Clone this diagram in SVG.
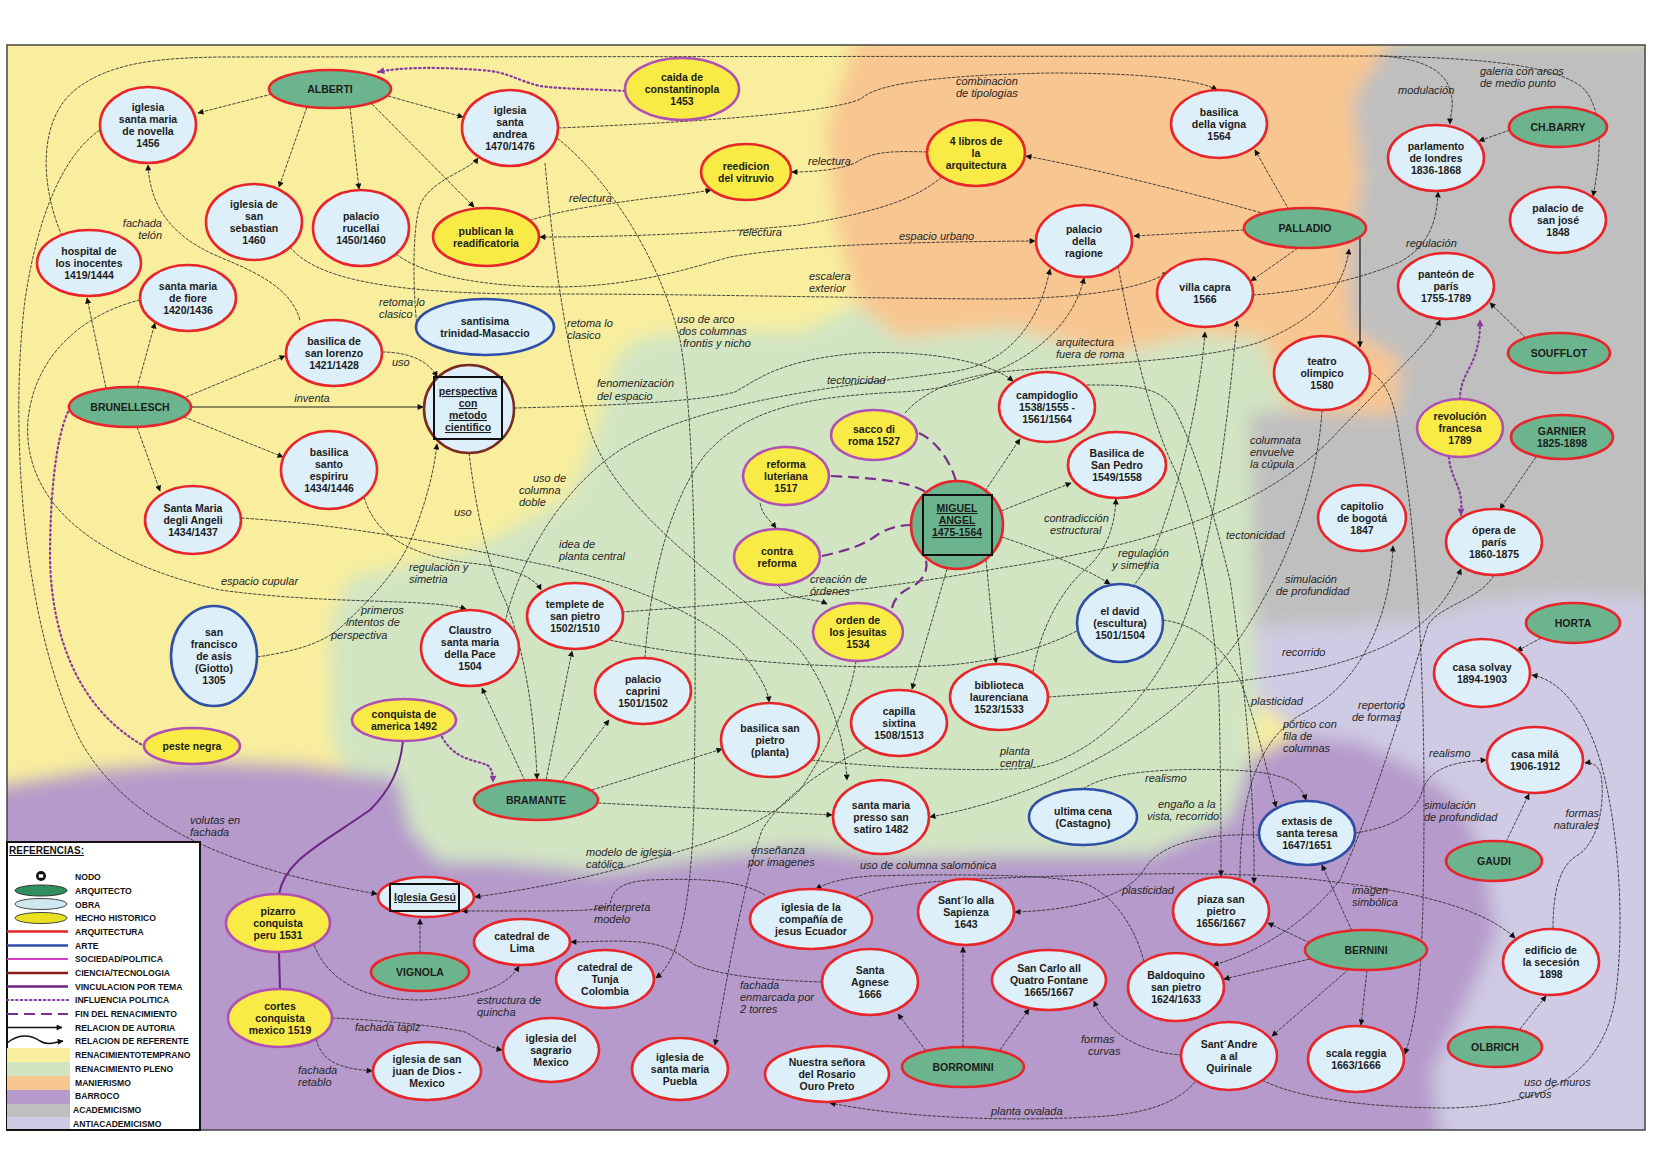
<svg xmlns="http://www.w3.org/2000/svg" width="1654" height="1169" viewBox="0 0 1654 1169">
<defs>
<style>
.t{font-family:"Liberation Sans",Arial,sans-serif;font-weight:bold;font-size:10.5px;fill:#1c1c1c;text-anchor:middle}
.u{text-decoration:underline}
.l{font-family:"Liberation Sans",Arial,sans-serif;font-style:italic;font-size:11px;fill:#262626}
.g{font-family:"Liberation Sans",Arial,sans-serif;font-weight:bold;font-size:8.6px;fill:#111}
.ob{fill:#DDEFF8;stroke:#E8252A;stroke-width:2.6}
.ar{fill:#DDEFF8;stroke:#2F4FA6;stroke-width:2.6}
.aq{fill:#6BB48E;stroke:#E8252A;stroke-width:2.6}
.hs{fill:#F8EB46;stroke:#B050B5;stroke-width:2.6}
.hr{fill:#F8EB46;stroke:#E8252A;stroke-width:2.6}
.e{fill:none;stroke:#2a2a2a;stroke-width:0.85;stroke-dasharray:3.5 1.2}
.s{fill:none;stroke:#222;stroke-width:1}
.pd{fill:none;stroke:#8B3A9F;stroke-width:2.2;stroke-dasharray:1.4 3.2;stroke-linecap:round}
.pf{fill:none;stroke:#7A2E90;stroke-width:2.2;stroke-dasharray:11 6}
.pv{fill:none;stroke:#6E2586;stroke-width:2}
</style>
<marker id="a" viewBox="0 0 10 10" refX="9" refY="5" markerWidth="7" markerHeight="6" markerUnits="userSpaceOnUse" orient="auto"><path d="M0,0 L10,5 L0,10 Z" fill="#111"/></marker>
<marker id="ap" viewBox="0 0 10 10" refX="9" refY="5" markerWidth="8" markerHeight="7" markerUnits="userSpaceOnUse" orient="auto"><path d="M0,0 L10,5 L0,10 Z" fill="#8B3A9F"/></marker>
<filter id="soft" x="-10%" y="-10%" width="120%" height="120%"><feGaussianBlur stdDeviation="9"/></filter>
<clipPath id="fr"><rect x="7" y="45" width="1638" height="1085"/></clipPath>
</defs>
<rect x="0" y="0" width="1654" height="1169" fill="#ffffff"/>
<g id="background" clip-path="url(#fr)">
<rect x="7" y="45" width="1638" height="1085" fill="#F8EE9E"/>
<g filter="url(#soft)">
<path fill="#F8C690" d="M855,40 L1392,40 L1352,100 L1362,180 L1348,260 L1352,330 L1400,360 L1396,415 L1290,410 L1262,338 L1200,334 L1110,354 L1010,327 L900,338 L858,305 L838,230 L826,130 L846,70 Z"/>
<path fill="#BFBFBF" d="M1392,40 L1660,40 L1660,598 L1560,594 L1480,602 L1420,620 L1255,628 L1250,412 L1290,410 L1396,415 L1400,360 L1352,330 L1348,260 L1362,180 L1352,100 Z"/>
<path fill="#D2E5C3" d="M330,625 L350,578 L475,549 L570,496 L592,443 L615,360 L640,338 L700,330 L800,332 L858,305 L900,338 L1010,327 L1110,354 L1200,334 L1262,338 L1290,410 L1250,412 L1255,628 L1258,700 L1250,760 L1230,820 L1150,855 L1020,855 L900,858 L800,847 L700,858 L600,872 L500,862 L440,862 L410,830 L398,778 L345,770 L332,740 Z"/>
<path fill="#B59ACB" d="M-10,788 L100,770 L200,762 L300,766 L345,772 L398,778 L410,830 L440,862 L500,862 L600,872 L700,858 L800,847 L900,858 L1020,855 L1150,855 L1230,820 L1250,760 L1300,735 L1360,742 L1420,772 L1460,802 L1482,852 L1497,932 L1467,1002 L1432,1072 L1442,1150 L-10,1150 Z"/>
<path fill="#CFCBE4" d="M1255,628 L1420,620 L1480,602 L1560,594 L1660,598 L1660,1150 L1442,1150 L1432,1072 L1467,1002 L1497,932 L1482,852 L1460,802 L1420,772 L1360,742 L1300,735 L1258,700 Z"/>
</g>
</g>
<rect x="7" y="45" width="1638" height="1085" fill="none" stroke="#444" stroke-width="1.5"/>

<g id="connectors">
<path class="e" marker-end="url(#a)" d="M272,94 L198,113"/>
<path class="e" marker-end="url(#a)" d="M307,107 L279,187"/>
<path class="e" marker-end="url(#a)" d="M350,107 L359,189"/>
<path class="e" marker-end="url(#a)" d="M388,96 L463,117"/>
<path class="e" marker-end="url(#a)" d="M372,104 L474,207"/>
<path class="e" marker-end="url(#a)" d="M106,388 L87,298"/>
<path class="e" marker-end="url(#a)" d="M137,388 L155,323"/>
<path class="e" marker-end="url(#a)" d="M186,397 L285,356"/>
<path class="s" marker-end="url(#a)" d="M191,407 L423,407"/>
<path class="e" marker-end="url(#a)" d="M184,417 L283,457"/>
<path class="e" marker-end="url(#a)" d="M137,427 L160,491"/>
<path class="e" marker-end="url(#a)" d="M525,781 L482,688"/>
<path class="e" marker-end="url(#a)" d="M546,780 L572,651"/>
<path class="e" marker-end="url(#a)" d="M562,782 L609,720"/>
<path class="e" marker-end="url(#a)" d="M592,790 L722,749"/>
<path class="e" marker-end="url(#a)" d="M598,803 L832,815"/>
<path class="e" marker-end="url(#a)" d="M1289,210 L1255,150"/>
<path class="e" marker-end="url(#a)" d="M1265,214 C1200,195 1100,170 1026,156"/>
<path class="e" marker-end="url(#a)" d="M1244,230 L1134,236"/>
<path class="e" marker-end="url(#a)" d="M1298,248 L1251,281"/>
<path class="s" style="stroke-width:1.3" marker-end="url(#a)" d="M1360,238 L1360,347"/>
<path class="e" marker-end="url(#a)" d="M985,491 L1020,439"/>
<path class="e" marker-end="url(#a)" d="M1001,511 L1071,483"/>
<path class="e" marker-end="url(#a)" d="M947,569 L912,689"/>
<path class="e" marker-end="url(#a)" d="M986,560 L996,663"/>
<path class="e" marker-end="url(#a)" d="M1002,537 C1040,550 1080,565 1110,584"/>
<path class="e" marker-end="url(#a)" d="M1510,130 L1479,141"/>
<path class="e" marker-end="url(#a)" d="M1526,338 L1490,303"/>
<path class="e" marker-end="url(#a)" d="M1536,457 L1500,509"/>
<path class="e" marker-end="url(#a)" d="M1541,638 L1517,651"/>
<path class="e" marker-end="url(#a)" d="M1506,842 L1529,794"/>
<path class="e" marker-end="url(#a)" d="M1520,1029 L1546,996"/>
<path class="e" marker-end="url(#a)" d="M420,953 L420,919"/>
<path class="e" marker-end="url(#a)" d="M926,1051 L898,1014"/>
<path class="e" marker-end="url(#a)" d="M963,1047 L963,947"/>
<path class="e" marker-end="url(#a)" d="M1000,1050 L1029,1009"/>
<path class="e" marker-end="url(#a)" d="M1352,931 L1322,865"/>
<path class="e" marker-end="url(#a)" d="M1310,943 L1268,923"/>
<path class="e" marker-end="url(#a)" d="M1310,959 L1224,979"/>
<path class="e" marker-end="url(#a)" d="M1349,969 L1272,1036"/>
<path class="e" marker-end="url(#a)" d="M1367,970 L1361,1025"/>
<path class="e" marker-end="url(#a)" d="M760,503 C762,515 770,520 776,528"/>
<path class="e" marker-end="url(#a)" d="M778,585 C785,600 815,598 827,604"/>
<path class="e" marker-end="url(#a)" d="M300,320 C290,285 250,270 215,255 C170,235 150,205 148,165"/>
<path class="e" marker-end="url(#a)" d="M382,352 C410,352 430,362 437,377"/>
<path class="e" marker-end="url(#a)" d="M417,327 C413,290 412,230 420,205 C430,180 470,170 478,158"/>
<path class="e" marker-end="url(#a)" d="M525,222 C560,210 600,205 650,198 C680,195 700,192 711,190"/>
<path class="e" marker-end="url(#a)" d="M927,152 C880,150 870,155 860,160 C850,168 820,172 792,172"/>
<path class="e" marker-end="url(#a)" d="M942,177 C920,195 890,210 800,225 C700,235 600,237 540,237"/>
<path class="e" marker-end="url(#a)" d="M558,128 C700,122 840,112 862,98 C880,82 950,75 1050,73 C1150,73 1200,80 1217,90"/>
<path class="e" marker-end="url(#a)" d="M396,254 C430,280 500,287 560,287 C640,286 700,265 730,257 C800,245 900,242 1035,241"/>
<path class="e" marker-end="url(#a)" d="M290,247 C320,285 420,295 560,294 C700,294 900,299 1000,299 C1100,298 1150,285 1168,272"/>
<path class="e" marker-end="url(#a)" d="M545,163 C553,250 565,350 590,430 C620,520 740,590 800,650 C830,690 845,740 847,780"/>
<path class="e" marker-end="url(#a)" d="M557,138 C610,180 660,260 680,340 C695,420 697,600 694,800 C692,900 680,960 656,978"/>
<path class="e" marker-end="url(#a)" d="M514,408 C600,406 700,402 735,392 C760,378 780,360 860,353 C930,350 990,362 1013,381"/>
<path class="e" marker-end="url(#a)" d="M645,658 C650,580 670,500 705,455 C745,410 800,397 900,392 C1000,387 1070,340 1084,278"/>
<path class="e" marker-end="url(#a)" d="M505,622 C520,560 560,490 620,450 C700,400 850,385 950,372 C1010,365 1040,320 1050,269"/>
<path class="e" marker-end="url(#a)" d="M905,413 C925,390 960,377 1000,372 C1080,364 1200,362 1260,342 C1320,318 1345,285 1349,249"/>
<path class="e" marker-end="url(#a)" d="M62,236 C40,185 38,120 75,90 C110,62 160,58 220,57 L1380,56 C1420,58 1445,70 1450,90 C1455,105 1450,115 1450,124"/>
<path class="e" marker-end="url(#a)" d="M1380,56 C1480,58 1560,65 1585,90 C1605,115 1600,160 1593,196"/>
<path class="e" marker-end="url(#a)" d="M100,130 C70,150 40,200 25,300 C10,420 20,620 80,740 C130,830 240,870 377,894"/>
<path class="e" marker-end="url(#a)" d="M140,300 C90,312 35,350 28,420 C22,500 90,560 220,590 C330,605 430,598 466,609"/>
<path class="e" marker-end="url(#a)" d="M364,497 C375,535 410,556 470,563 C515,568 535,578 541,590"/>
<path class="e" marker-end="url(#a)" d="M257,657 C290,652 320,645 340,628 C370,600 400,570 415,530 C428,495 434,470 437,444"/>
<path class="e" marker-end="url(#a)" d="M469,453 C475,500 485,560 505,600 C525,650 535,720 537,779"/>
<path class="e" marker-end="url(#a)" d="M241,518 C350,525 450,545 540,564 C620,580 700,612 740,650 C760,675 768,690 769,702"/>
<path class="e" marker-end="url(#a)" d="M622,612 C720,605 850,595 1000,568 C1150,545 1260,510 1330,440 C1395,372 1432,340 1440,320"/>
<path class="e" marker-end="url(#a)" d="M1322,410 C1318,480 1290,560 1245,630 C1180,730 1050,795 930,817"/>
<path class="e" marker-end="url(#a)" d="M1048,697 C1150,690 1250,683 1320,668 C1400,648 1440,620 1461,569"/>
<path class="e" marker-end="url(#a)" d="M1087,385 C1130,385 1160,385 1175,410 C1200,460 1215,520 1230,580 C1245,680 1255,800 1254,883"/>
<path class="e" marker-end="url(#a)" d="M1118,266 C1130,330 1150,420 1175,470 C1200,530 1215,620 1219,700 C1221,780 1221,840 1221,876"/>
<path class="e" marker-end="url(#a)" d="M1083,789 C1110,770 1180,768 1230,770 C1280,772 1300,780 1306,800"/>
<path class="e" marker-end="url(#a)" d="M1163,620 C1200,625 1225,650 1240,680 C1255,720 1265,760 1276,807"/>
<path class="e" marker-end="url(#a)" d="M1240,878 C1240,790 1260,740 1300,715 C1360,685 1390,620 1393,546"/>
<path class="e" marker-end="url(#a)" d="M1494,575 C1480,600 1440,605 1428,625 C1410,680 1380,790 1340,880 C1300,930 1250,955 1213,965"/>
<path class="e" marker-end="url(#a)" d="M1370,372 C1385,380 1395,400 1400,440 C1415,520 1424,650 1424,800 C1424,950 1420,1010 1405,1054"/>
<path class="e" marker-end="url(#a)" d="M1355,833 C1390,828 1415,815 1422,792 C1428,772 1445,762 1486,760"/>
<path class="e" marker-end="url(#a)" d="M1553,929 C1553,890 1560,865 1578,855 C1600,840 1605,800 1601,775 C1598,765 1592,762 1585,763"/>
<path class="e" marker-end="url(#a)" d="M1262,1080 C1300,1100 1380,1108 1450,1108 C1540,1105 1600,1080 1615,1000 C1625,930 1620,830 1600,760 C1585,710 1560,680 1532,675"/>
<path class="e" marker-end="url(#a)" d="M1195,1082 C1180,1100 1150,1115 1090,1117 C1000,1122 900,1117 830,1103"/>
<path class="e" marker-end="url(#a)" d="M1182,1055 C1150,1053 1110,1040 1094,1001"/>
<path class="e" marker-end="url(#a)" d="M822,982 C760,980 720,975 695,965 C680,955 670,945 640,942 C610,940 590,942 571,942"/>
<path class="e" marker-end="url(#a)" d="M765,895 C740,880 700,878 650,880 C620,882 612,890 610,905 C605,912 560,911 462,911"/>
<path class="e" marker-end="url(#a)" d="M856,661 C850,700 830,745 800,790 C760,830 700,845 650,860 C600,875 540,888 475,897"/>
<path class="e" marker-end="url(#a)" d="M866,748 C820,770 780,800 762,830 C745,880 730,960 715,1045"/>
<path class="e" marker-end="url(#a)" d="M314,945 C330,985 370,1000 420,1000 C470,998 505,990 519,966"/>
<path class="e" marker-end="url(#a)" d="M332,1018 C380,1020 440,1026 465,1032 C480,1040 488,1047 502,1050"/>
<path class="e" marker-end="url(#a)" d="M316,1039 C322,1060 335,1068 372,1071"/>
<path class="e" marker-end="url(#a)" d="M1144,962 C1135,925 1110,890 1080,882 C1040,874 950,874 870,876 C845,878 828,882 816,889"/>
<path class="e" marker-end="url(#a)" d="M855,898 C880,885 940,880 1000,878 C1100,875 1200,870 1300,878 C1400,888 1480,905 1515,938"/>
<path class="e" marker-end="url(#a)" d="M1259,835 C1200,833 1160,845 1145,868 C1130,895 1080,910 1015,912"/>
<path class="e" marker-end="url(#a)" d="M1033,672 C1040,630 1060,590 1090,565 C1110,545 1115,520 1116,499"/>
<path class="e" marker-end="url(#a)" d="M610,640 C700,660 850,672 950,665 C1050,655 1120,620 1150,560 C1180,490 1200,400 1205,332"/>
<path class="e" marker-end="url(#a)" d="M812,760 C880,768 980,772 1030,768 C1090,760 1150,700 1180,630 C1210,560 1225,450 1237,321"/>
<path class="e" marker-end="url(#a)" d="M1253,295 C1300,292 1360,280 1400,262 C1430,245 1437,220 1438,192"/>
<path class="pd" d="M68,412 C55,440 50,500 50,560 C52,640 80,710 144,746"/>
<path class="pd" marker-end="url(#ap)" d="M625,91 C590,89 560,89 540,86 C515,80 510,72 480,70 C440,67 400,67 378,72"/>
<path class="pd" marker-end="url(#ap)" d="M442,737 C455,760 475,760 487,765 C492,768 493,775 493,782"/>
<path class="pd" marker-end="url(#ap)" d="M1460,399 C1460,380 1470,370 1475,355 C1480,340 1480,330 1480,320"/>
<path class="pd" marker-end="url(#ap)" d="M1449,457 C1450,475 1460,485 1461,500 C1462,508 1461,512 1461,515"/>
<path class="pv" d="M403,741 C400,770 390,790 370,810 C320,845 285,860 279,894"/>
<path class="pv" d="M279,952 L280,989"/>
<path class="pf" d="M919,433 C935,440 950,460 956,481"/>
<path class="pf" d="M831,476 C870,478 905,480 926,492"/>
<path class="pf" d="M822,556 C860,548 870,540 880,533 C890,528 900,525 911,525"/>
<path class="pf" d="M892,608 C895,595 905,590 915,585 C925,578 928,568 926,560"/>
<text class="l" x="162" y="227" text-anchor="end">fachada</text>
<text class="l" x="162" y="239" text-anchor="end">telón</text>
<text class="l" x="379" y="306">retoma lo</text>
<text class="l" x="379" y="318">clasico</text>
<text class="l" x="392" y="366">uso</text>
<text class="l" x="312" y="402" text-anchor="middle">inventa</text>
<text class="l" x="569" y="202">relectura</text>
<text class="l" x="808" y="165">relectura</text>
<text class="l" x="739" y="236">relectura</text>
<text class="l" x="956" y="85">combinacion</text>
<text class="l" x="956" y="97">de tipologias</text>
<text class="l" x="899" y="240">espacio urbano</text>
<text class="l" x="809" y="280">escalera</text>
<text class="l" x="809" y="292">exterior</text>
<text class="l" x="567" y="327">retoma lo</text>
<text class="l" x="567" y="339">clasico</text>
<text class="l" x="677" y="323">uso de arco</text>
<text class="l" x="679" y="335">dos columnas</text>
<text class="l" x="683" y="347">frontis y nicho</text>
<text class="l" x="597" y="387">fenomenización</text>
<text class="l" x="597" y="400">del espacio</text>
<text class="l" x="827" y="384">tectonicidad</text>
<text class="l" x="1056" y="346">arquitectura</text>
<text class="l" x="1056" y="358">fuera de roma</text>
<text class="l" x="1398" y="94">modulación</text>
<text class="l" x="1480" y="75">galeria con arcos</text>
<text class="l" x="1480" y="87">de medio punto</text>
<text class="l" x="1406" y="247">regulación</text>
<text class="l" x="1250" y="444">columnata</text>
<text class="l" x="1250" y="456">envuelve</text>
<text class="l" x="1250" y="468">la cúpula</text>
<text class="l" x="1226" y="539">tectonicidad</text>
<text class="l" x="1285" y="583">simulación</text>
<text class="l" x="1276" y="595">de profundidad</text>
<text class="l" x="1282" y="656">recorrido</text>
<text class="l" x="1251" y="705">plasticidad</text>
<text class="l" x="1358" y="709">repertorio</text>
<text class="l" x="1352" y="721">de formas</text>
<text class="l" x="1283" y="728">pórtico con</text>
<text class="l" x="1283" y="740">fila de</text>
<text class="l" x="1283" y="752">columnas</text>
<text class="l" x="1429" y="757">realismo</text>
<text class="l" x="1424" y="809">simulación</text>
<text class="l" x="1424" y="821">de profundidad</text>
<text class="l" x="1599" y="817" text-anchor="end">formas</text>
<text class="l" x="1599" y="829" text-anchor="end">naturales</text>
<text class="l" x="1145" y="782">realismo</text>
<text class="l" x="1158" y="808">engaño a la</text>
<text class="l" x="1147" y="820">vista, recorrido</text>
<text class="l" x="1122" y="894">plasticidad</text>
<text class="l" x="1352" y="894">imagen</text>
<text class="l" x="1352" y="906">simbólica</text>
<text class="l" x="1524" y="1086">uso de muros</text>
<text class="l" x="1519" y="1098">curvos</text>
<text class="l" x="1081" y="1043">formas</text>
<text class="l" x="1088" y="1055">curvas</text>
<text class="l" x="991" y="1115">planta ovalada</text>
<text class="l" x="740" y="989">fachada</text>
<text class="l" x="740" y="1001">enmarcada por</text>
<text class="l" x="740" y="1013">2 torres</text>
<text class="l" x="860" y="869">uso de columna salomónica</text>
<text class="l" x="751" y="854">enseñanza</text>
<text class="l" x="748" y="866">por imagenes</text>
<text class="l" x="586" y="856">modelo de iglesia</text>
<text class="l" x="586" y="868">católica</text>
<text class="l" x="594" y="911">reinterpreta</text>
<text class="l" x="594" y="923">modelo</text>
<text class="l" x="1000" y="755">planta</text>
<text class="l" x="1000" y="767">central</text>
<text class="l" x="190" y="824">volutas en</text>
<text class="l" x="190" y="836">fachada</text>
<text class="l" x="477" y="1004">estructura de</text>
<text class="l" x="477" y="1016">quincha</text>
<text class="l" x="355" y="1031">fachada tapiz</text>
<text class="l" x="298" y="1074">fachada</text>
<text class="l" x="298" y="1086">retablo</text>
<text class="l" x="221" y="585">espacio cupular</text>
<text class="l" x="409" y="571">regulación y</text>
<text class="l" x="409" y="583">simetria</text>
<text class="l" x="361" y="614">primeros</text>
<text class="l" x="346" y="626">intentos de</text>
<text class="l" x="331" y="639">perspectiva</text>
<text class="l" x="454" y="516">uso</text>
<text class="l" x="533" y="482">uso de</text>
<text class="l" x="519" y="494">columna</text>
<text class="l" x="519" y="506">doble</text>
<text class="l" x="559" y="548">idea de</text>
<text class="l" x="559" y="560">planta central</text>
<text class="l" x="810" y="583">creación de</text>
<text class="l" x="810" y="595">órdenes</text>
<text class="l" x="1044" y="522">contradicción</text>
<text class="l" x="1050" y="534">estructural</text>
<text class="l" x="1118" y="557">regulación</text>
<text class="l" x="1112" y="569">y simetria</text>
</g>

<g id="n-alberti"><ellipse class="aq" cx="330" cy="89" rx="61" ry="19"/><text class="t" x="330" y="93">ALBERTI</text></g>
<g id="n-novella"><ellipse class="ob" cx="148" cy="125" rx="48" ry="38"/><text class="t"><tspan x="148" y="111">iglesia</tspan><tspan x="148" y="123">santa maria</tspan><tspan x="148" y="135">de novella</tspan><tspan x="148" y="147">1456</tspan></text></g>
<g id="n-andrea"><ellipse class="ob" cx="510" cy="128" rx="48" ry="38"/><text class="t"><tspan x="510" y="114">iglesia</tspan><tspan x="510" y="126">santa</tspan><tspan x="510" y="138">andrea</tspan><tspan x="510" y="150">1470/1476</tspan></text></g>
<g id="n-caida"><ellipse class="hs" cx="682" cy="89" rx="57" ry="31"/><text class="t"><tspan x="682" y="81">caida de</tspan><tspan x="682" y="93">constantinopla</tspan><tspan x="682" y="105">1453</tspan></text></g>
<g id="n-vitruvio"><ellipse class="hr" cx="746" cy="172" rx="45" ry="28"/><text class="t"><tspan x="746" y="170">reedicion</tspan><tspan x="746" y="182">del vitruvio</tspan></text></g>
<g id="n-4libros"><ellipse class="hr" cx="976" cy="153" rx="49" ry="33"/><text class="t"><tspan x="976" y="145">4 libros de</tspan><tspan x="976" y="157">la</tspan><tspan x="976" y="169">arquitectura</tspan></text></g>
<g id="n-vigna"><ellipse class="ob" cx="1219" cy="124" rx="48" ry="34"/><text class="t"><tspan x="1219" y="116">basilica</tspan><tspan x="1219" y="128">della vigna</tspan><tspan x="1219" y="140">1564</tspan></text></g>
<g id="n-parlamento"><ellipse class="ob" cx="1436" cy="158" rx="48" ry="33"/><text class="t"><tspan x="1436" y="150">parlamento</tspan><tspan x="1436" y="162">de londres</tspan><tspan x="1436" y="174">1836-1868</tspan></text></g>
<g id="n-barry"><ellipse class="aq" cx="1558" cy="127" rx="49" ry="20"/><text class="t" x="1558" y="131">CH.BARRY</text></g>
<g id="n-sebastian"><ellipse class="ob" cx="254" cy="222" rx="48" ry="38"/><text class="t"><tspan x="254" y="208">iglesia de</tspan><tspan x="254" y="220">san</tspan><tspan x="254" y="232">sebastian</tspan><tspan x="254" y="244">1460</tspan></text></g>
<g id="n-rucellai"><ellipse class="ob" cx="361" cy="228" rx="48" ry="38"/><text class="t"><tspan x="361" y="220">palacio</tspan><tspan x="361" y="232">rucellai</tspan><tspan x="361" y="244">1450/1460</tspan></text></g>
<g id="n-readificatoria"><ellipse class="hr" cx="486" cy="237" rx="53" ry="29"/><text class="t"><tspan x="486" y="235">publican la</tspan><tspan x="486" y="247">readificatoria</tspan></text></g>
<g id="n-ragione"><ellipse class="ob" cx="1084" cy="241" rx="48" ry="36"/><text class="t"><tspan x="1084" y="233">palacio</tspan><tspan x="1084" y="245">della</tspan><tspan x="1084" y="257">ragione</tspan></text></g>
<g id="n-palladio"><ellipse class="aq" cx="1305" cy="228" rx="61" ry="20"/><text class="t" x="1305" y="232">PALLADIO</text></g>
<g id="n-sanjose"><ellipse class="ob" cx="1558" cy="220" rx="48" ry="33"/><text class="t"><tspan x="1558" y="212">palacio de</tspan><tspan x="1558" y="224">san josé</tspan><tspan x="1558" y="236">1848</tspan></text></g>
<g id="n-inocentes"><ellipse class="ob" cx="89" cy="263" rx="52" ry="33"/><text class="t"><tspan x="89" y="255">hospital de</tspan><tspan x="89" y="267">los inocentes</tspan><tspan x="89" y="279">1419/1444</tspan></text></g>
<g id="n-fiore"><ellipse class="ob" cx="188" cy="298" rx="48" ry="33"/><text class="t"><tspan x="188" y="290">santa maria</tspan><tspan x="188" y="302">de fiore</tspan><tspan x="188" y="314">1420/1436</tspan></text></g>
<g id="n-trinidad"><ellipse class="ar" cx="485" cy="327" rx="69" ry="28"/><text class="t"><tspan x="485" y="325">santisima</tspan><tspan x="485" y="337">trinidad-Masaccio</tspan></text></g>
<g id="n-villacapra"><ellipse class="ob" cx="1205" cy="293" rx="48" ry="34"/><text class="t"><tspan x="1205" y="291">villa capra</tspan><tspan x="1205" y="303">1566</tspan></text></g>
<g id="n-panteon"><ellipse class="ob" cx="1446" cy="286" rx="48" ry="33"/><text class="t"><tspan x="1446" y="278">panteón de</tspan><tspan x="1446" y="290">parís</tspan><tspan x="1446" y="302">1755-1789</tspan></text></g>
<g id="n-lorenzo"><ellipse class="ob" cx="334" cy="353" rx="48" ry="33"/><text class="t"><tspan x="334" y="345">basilica de</tspan><tspan x="334" y="357">san lorenzo</tspan><tspan x="334" y="369">1421/1428</tspan></text></g>
<g id="n-brunellesch"><ellipse class="aq" cx="130" cy="407" rx="61" ry="20"/><text class="t" x="130" y="411">BRUNELLESCH</text></g>
<g id="n-perspectiva"><ellipse cx="469" cy="409" rx="45" ry="44" fill="#DDEFF8" stroke="#7A2B1F" stroke-width="2.6"/><rect x="434" y="377" width="68" height="62" fill="none" stroke="#111" stroke-width="2"/><text class="t u"><tspan x="468" y="395">perspectiva</tspan><tspan x="468" y="407">con</tspan><tspan x="468" y="419">metodo</tspan><tspan x="468" y="431">cientifico</tspan></text></g>
<g id="n-campidoglio"><ellipse class="ob" cx="1047" cy="407" rx="48" ry="35"/><text class="t"><tspan x="1047" y="399">campidoglio</tspan><tspan x="1047" y="411">1538/1555  -</tspan><tspan x="1047" y="423">1561/1564</tspan></text></g>
<g id="n-olimpico"><ellipse class="ob" cx="1322" cy="373" rx="48" ry="37"/><text class="t"><tspan x="1322" y="365">teatro</tspan><tspan x="1322" y="377">olimpico</tspan><tspan x="1322" y="389">1580</tspan></text></g>
<g id="n-soufflot"><ellipse class="aq" cx="1559" cy="353" rx="51" ry="20"/><text class="t" x="1559" y="357">SOUFFLOT</text></g>
<g id="n-sacco"><ellipse class="hs" cx="874" cy="435" rx="43" ry="25"/><text class="t"><tspan x="874" y="433">sacco di</tspan><tspan x="874" y="445">roma 1527</tspan></text></g>
<g id="n-revolucion"><ellipse class="hs" cx="1460" cy="428" rx="43" ry="29"/><text class="t"><tspan x="1460" y="420">revolución</tspan><tspan x="1460" y="432">francesa</tspan><tspan x="1460" y="444">1789</tspan></text></g>
<g id="n-garnier"><ellipse class="aq" cx="1562" cy="437" rx="51" ry="22"/><text class="t"><tspan x="1562" y="435">GARNIER</tspan><tspan x="1562" y="447">1825-1898</tspan></text></g>
<g id="n-reforma"><ellipse class="hs" cx="786" cy="476" rx="43" ry="29"/><text class="t"><tspan x="786" y="468">reforma</tspan><tspan x="786" y="480">luteriana</tspan><tspan x="786" y="492">1517</tspan></text></g>
<g id="n-sanpedro"><ellipse class="ob" cx="1117" cy="465" rx="49" ry="33"/><text class="t"><tspan x="1117" y="457">Basilica de</tspan><tspan x="1117" y="469">San Pedro</tspan><tspan x="1117" y="481">1549/1558</tspan></text></g>
<g id="n-espiriru"><ellipse class="ob" cx="329" cy="470" rx="48" ry="39"/><text class="t"><tspan x="329" y="456">basilica</tspan><tspan x="329" y="468">santo</tspan><tspan x="329" y="480">espiriru</tspan><tspan x="329" y="492">1434/1446</tspan></text></g>
<g id="n-angeli"><ellipse class="ob" cx="193" cy="520" rx="48" ry="34"/><text class="t"><tspan x="193" y="512">Santa Maria</tspan><tspan x="193" y="524">degli Angeli</tspan><tspan x="193" y="536">1434/1437</tspan></text></g>
<g id="n-miguelangel"><ellipse class="aq" cx="957" cy="525" rx="46" ry="44"/><rect x="923" y="495" width="69" height="60" fill="none" stroke="#111" stroke-width="2"/><text class="t u"><tspan x="957" y="512">MIGUEL</tspan><tspan x="957" y="524">ANGEL</tspan><tspan x="957" y="536">1475-1564</tspan></text></g>
<g id="n-bogota"><ellipse class="ob" cx="1362" cy="518" rx="44" ry="33"/><text class="t"><tspan x="1362" y="510">capitolio</tspan><tspan x="1362" y="522">de bogotá</tspan><tspan x="1362" y="534">1847</tspan></text></g>
<g id="n-opera"><ellipse class="ob" cx="1494" cy="542" rx="48" ry="33"/><text class="t"><tspan x="1494" y="534">ópera de</tspan><tspan x="1494" y="546">parís</tspan><tspan x="1494" y="558">1860-1875</tspan></text></g>
<g id="n-contrareforma"><ellipse class="hs" cx="777" cy="557" rx="43" ry="28"/><text class="t"><tspan x="777" y="555">contra</tspan><tspan x="777" y="567">reforma</tspan></text></g>
<g id="n-asis"><ellipse class="ar" cx="214" cy="656" rx="43" ry="50"/><text class="t"><tspan x="214" y="636">san</tspan><tspan x="214" y="648">francisco</tspan><tspan x="214" y="660">de asis</tspan><tspan x="214" y="672">(Giotto)</tspan><tspan x="214" y="684">1305</tspan></text></g>
<g id="n-claustro"><ellipse class="ob" cx="470" cy="648" rx="49" ry="38"/><text class="t"><tspan x="470" y="634">Claustro</tspan><tspan x="470" y="646">santa maria</tspan><tspan x="470" y="658">della Pace</tspan><tspan x="470" y="670">1504</tspan></text></g>
<g id="n-templete"><ellipse class="ob" cx="575" cy="616" rx="48" ry="33"/><text class="t"><tspan x="575" y="608">templete de</tspan><tspan x="575" y="620">san pietro</tspan><tspan x="575" y="632">1502/1510</tspan></text></g>
<g id="n-jesuitas"><ellipse class="hs" cx="858" cy="632" rx="45" ry="29"/><text class="t"><tspan x="858" y="624">orden de</tspan><tspan x="858" y="636">los jesuitas</tspan><tspan x="858" y="648">1534</tspan></text></g>
<g id="n-david"><ellipse class="ar" cx="1120" cy="623" rx="43" ry="39"/><text class="t"><tspan x="1120" y="615">el david</tspan><tspan x="1120" y="627">(escultura)</tspan><tspan x="1120" y="639">1501/1504</tspan></text></g>
<g id="n-horta"><ellipse class="aq" cx="1573" cy="623" rx="47" ry="20"/><text class="t" x="1573" y="627">HORTA</text></g>
<g id="n-solvay"><ellipse class="ob" cx="1482" cy="673" rx="48" ry="34"/><text class="t"><tspan x="1482" y="671">casa solvay</tspan><tspan x="1482" y="683">1894-1903</tspan></text></g>
<g id="n-caprini"><ellipse class="ob" cx="643" cy="691" rx="48" ry="33"/><text class="t"><tspan x="643" y="683">palacio</tspan><tspan x="643" y="695">caprini</tspan><tspan x="643" y="707">1501/1502</tspan></text></g>
<g id="n-laurenciana"><ellipse class="ob" cx="999" cy="697" rx="49" ry="33"/><text class="t"><tspan x="999" y="689">biblioteca</tspan><tspan x="999" y="701">laurenciana</tspan><tspan x="999" y="713">1523/1533</tspan></text></g>
<g id="n-sixtina"><ellipse class="ob" cx="899" cy="723" rx="48" ry="33"/><text class="t"><tspan x="899" y="715">capilla</tspan><tspan x="899" y="727">sixtina</tspan><tspan x="899" y="739">1508/1513</tspan></text></g>
<g id="n-sanpietroplanta"><ellipse class="ob" cx="770" cy="740" rx="49" ry="37"/><text class="t"><tspan x="770" y="732">basilica san</tspan><tspan x="770" y="744">pietro</tspan><tspan x="770" y="756">(planta)</tspan></text></g>
<g id="n-america"><ellipse class="hs" cx="404" cy="720" rx="52" ry="21"/><text class="t"><tspan x="404" y="718">conquista de</tspan><tspan x="404" y="730">america 1492</tspan></text></g>
<g id="n-peste"><ellipse class="hs" cx="192" cy="746" rx="48" ry="18"/><text class="t" x="192" y="750">peste negra</text></g>
<g id="n-mila"><ellipse class="ob" cx="1535" cy="760" rx="48" ry="33"/><text class="t"><tspan x="1535" y="758">casa milá</tspan><tspan x="1535" y="770">1906-1912</tspan></text></g>
<g id="n-bramante"><ellipse class="aq" cx="536" cy="800" rx="62" ry="20"/><text class="t" x="536" y="804">BRAMANTE</text></g>
<g id="n-satiro"><ellipse class="ob" cx="881" cy="817" rx="48" ry="37"/><text class="t"><tspan x="881" y="809">santa maria</tspan><tspan x="881" y="821">presso san</tspan><tspan x="881" y="833">satiro 1482</tspan></text></g>
<g id="n-ultimacena"><ellipse class="ar" cx="1083" cy="817" rx="54" ry="28"/><text class="t"><tspan x="1083" y="815">ultima cena</tspan><tspan x="1083" y="827">(Castagno)</tspan></text></g>
<g id="n-teresa"><ellipse class="ar" cx="1307" cy="833" rx="48" ry="32"/><text class="t"><tspan x="1307" y="825">extasis de</tspan><tspan x="1307" y="837">santa teresa</tspan><tspan x="1307" y="849">1647/1651</tspan></text></g>
<g id="n-gaudi"><ellipse class="aq" cx="1494" cy="861" rx="48" ry="20"/><text class="t" x="1494" y="865">GAUDI</text></g>
<g id="n-gesu"><ellipse class="ob" cx="426" cy="897" rx="48" ry="20"/><rect x="390" y="884" width="69" height="27" fill="none" stroke="#111" stroke-width="2"/><text class="t u" x="425" y="901">Iglesia Gesú</text></g>
<g id="n-compania"><ellipse class="ob" cx="811" cy="919" rx="61" ry="30"/><text class="t"><tspan x="811" y="911">iglesia de la</tspan><tspan x="811" y="923">compañía de</tspan><tspan x="811" y="935">jesus Ecuador</tspan></text></g>
<g id="n-sapienza"><ellipse class="ob" cx="966" cy="912" rx="48" ry="33"/><text class="t"><tspan x="966" y="904">Sant´lo alla</tspan><tspan x="966" y="916">Sapienza</tspan><tspan x="966" y="928">1643</tspan></text></g>
<g id="n-piazza"><ellipse class="ob" cx="1221" cy="911" rx="48" ry="34"/><text class="t"><tspan x="1221" y="903">piaza san</tspan><tspan x="1221" y="915">pietro</tspan><tspan x="1221" y="927">1656/1667</tspan></text></g>
<g id="n-bernini"><ellipse class="aq" cx="1366" cy="950" rx="61" ry="20"/><text class="t" x="1366" y="954">BERNINI</text></g>
<g id="n-pizarro"><ellipse class="hs" cx="278" cy="923" rx="52" ry="29"/><text class="t"><tspan x="278" y="915">pizarro</tspan><tspan x="278" y="927">conquista</tspan><tspan x="278" y="939">peru 1531</tspan></text></g>
<g id="n-lima"><ellipse class="ob" cx="522" cy="942" rx="48" ry="23"/><text class="t"><tspan x="522" y="940">catedral de</tspan><tspan x="522" y="952">Lima</tspan></text></g>
<g id="n-vignola"><ellipse class="aq" cx="420" cy="972" rx="49" ry="19"/><text class="t" x="420" y="976">VIGNOLA</text></g>
<g id="n-tunja"><ellipse class="ob" cx="605" cy="979" rx="49" ry="29"/><text class="t"><tspan x="605" y="971">catedral de</tspan><tspan x="605" y="983">Tunja</tspan><tspan x="605" y="995">Colombia</tspan></text></g>
<g id="n-agnese"><ellipse class="ob" cx="870" cy="982" rx="48" ry="33"/><text class="t"><tspan x="870" y="974">Santa</tspan><tspan x="870" y="986">Agnese</tspan><tspan x="870" y="998">1666</tspan></text></g>
<g id="n-sancarlo"><ellipse class="ob" cx="1049" cy="980" rx="57" ry="30"/><text class="t"><tspan x="1049" y="972">San Carlo all</tspan><tspan x="1049" y="984">Quatro Fontane</tspan><tspan x="1049" y="996">1665/1667</tspan></text></g>
<g id="n-baldoquino"><ellipse class="ob" cx="1176" cy="987" rx="48" ry="34"/><text class="t"><tspan x="1176" y="979">Baldoquino</tspan><tspan x="1176" y="991">san pietro</tspan><tspan x="1176" y="1003">1624/1633</tspan></text></g>
<g id="n-secesion"><ellipse class="ob" cx="1551" cy="962" rx="48" ry="33"/><text class="t"><tspan x="1551" y="954">edificio de</tspan><tspan x="1551" y="966">la secesión</tspan><tspan x="1551" y="978">1898</tspan></text></g>
<g id="n-cortes"><ellipse class="hs" cx="280" cy="1018" rx="52" ry="29"/><text class="t"><tspan x="280" y="1010">cortes</tspan><tspan x="280" y="1022">conquista</tspan><tspan x="280" y="1034">mexico 1519</tspan></text></g>
<g id="n-sagrario"><ellipse class="ob" cx="551" cy="1050" rx="48" ry="32"/><text class="t"><tspan x="551" y="1042">iglesia del</tspan><tspan x="551" y="1054">sagrario</tspan><tspan x="551" y="1066">Mexico</tspan></text></g>
<g id="n-quirinale"><ellipse class="ob" cx="1229" cy="1056" rx="48" ry="34"/><text class="t"><tspan x="1229" y="1048">Sant´Andre</tspan><tspan x="1229" y="1060">a al</tspan><tspan x="1229" y="1072">Quirinale</tspan></text></g>
<g id="n-scalareggia"><ellipse class="ob" cx="1356" cy="1059" rx="48" ry="33"/><text class="t"><tspan x="1356" y="1057">scala reggia</tspan><tspan x="1356" y="1069">1663/1666</tspan></text></g>
<g id="n-olbrich"><ellipse class="aq" cx="1495" cy="1047" rx="47" ry="20"/><text class="t" x="1495" y="1051">OLBRICH</text></g>
<g id="n-sanjuan"><ellipse class="ob" cx="427" cy="1071" rx="54" ry="29"/><text class="t"><tspan x="427" y="1063">iglesia de san</tspan><tspan x="427" y="1075">juan de Dios -</tspan><tspan x="427" y="1087">Mexico</tspan></text></g>
<g id="n-puebla"><ellipse class="ob" cx="680" cy="1069" rx="48" ry="31"/><text class="t"><tspan x="680" y="1061">iglesia de</tspan><tspan x="680" y="1073">santa maria</tspan><tspan x="680" y="1085">Puebla</tspan></text></g>
<g id="n-rosario"><ellipse class="ob" cx="827" cy="1074" rx="62" ry="28"/><text class="t"><tspan x="827" y="1066">Nuestra señora</tspan><tspan x="827" y="1078">del Rosario</tspan><tspan x="827" y="1090">Ouro Preto</tspan></text></g>
<g id="n-borromini"><ellipse class="aq" cx="963" cy="1067" rx="61" ry="20"/><text class="t" x="963" y="1071">BORROMINI</text></g>

<g id="legend">
<rect x="7" y="842" width="193" height="288" fill="#ffffff" stroke="#111" stroke-width="2"/>
<text class="g u" x="9" y="854" style="font-size:10px">REFERENCIAS:</text>
<circle cx="41" cy="876" r="5" fill="#111"/><rect x="38.5" y="874" width="5" height="4" fill="#fff" stroke="#111" stroke-width="0.6"/>
<ellipse cx="41" cy="890.5" rx="26" ry="5.5" fill="#2F8F5F" stroke="#333" stroke-width="1"/>
<ellipse cx="41" cy="904" rx="26" ry="5.5" fill="#CDE8F0" stroke="#444" stroke-width="1"/>
<ellipse cx="41" cy="918" rx="26" ry="5.5" fill="#E8E020" stroke="#444" stroke-width="1"/>
<line x1="7" y1="931.5" x2="68" y2="931.5" stroke="#E8252A" stroke-width="2.5"/>
<line x1="7" y1="945.5" x2="68" y2="945.5" stroke="#2F4FA6" stroke-width="2.5"/>
<line x1="7" y1="959" x2="68" y2="959" stroke="#D040C0" stroke-width="2"/>
<line x1="7" y1="973" x2="68" y2="973" stroke="#8B1A1A" stroke-width="2.5"/>
<line x1="7" y1="986.5" x2="68" y2="986.5" stroke="#6E2586" stroke-width="2.5"/>
<line x1="7" y1="1000" x2="68" y2="1000" class="pd"/>
<line x1="7" y1="1014" x2="68" y2="1014" class="pf"/>
<line x1="7" y1="1027.5" x2="62" y2="1027.5" stroke="#111" stroke-width="1.5" marker-end="url(#a)"/>
<path d="M7,1043 C18,1034 30,1034 40,1041 C48,1046 55,1042 63,1041" fill="none" stroke="#111" stroke-width="1.5" marker-end="url(#a)"/>
<rect x="7" y="1048" width="63" height="14" fill="#F8EE9E"/>
<rect x="7" y="1062" width="63" height="14" fill="#D2E5C3"/>
<rect x="7" y="1076" width="63" height="14" fill="#F8C690"/>
<rect x="7" y="1090" width="63" height="14" fill="#B59ACB"/>
<rect x="7" y="1104" width="63" height="13" fill="#BFBFBF"/>
<rect x="7" y="1117" width="63" height="12" fill="#CFCBE4"/>
<text class="g" x="75" y="880">NODO</text>
<text class="g" x="75" y="894">ARQUITECTO</text>
<text class="g" x="75" y="907.5">OBRA</text>
<text class="g" x="75" y="921">HECHO HISTORICO</text>
<text class="g" x="75" y="935">ARQUITECTURA</text>
<text class="g" x="75" y="948.5">ARTE</text>
<text class="g" x="75" y="962">SOCIEDAD/POLITICA</text>
<text class="g" x="75" y="976">CIENCIA/TECNOLOGIA</text>
<text class="g" x="75" y="989.5">VINCULACION POR TEMA</text>
<text class="g" x="75" y="1003">INFLUENCIA POLITICA</text>
<text class="g" x="75" y="1017">FIN DEL RENACIMIENTO</text>
<text class="g" x="75" y="1030.5">RELACION DE AUTORIA</text>
<text class="g" x="75" y="1044">RELACION DE REFERENTE</text>
<text class="g" x="75" y="1058">RENACIMIENTOTEMPRANO</text>
<text class="g" x="75" y="1072">RENACIMIENTO PLENO</text>
<text class="g" x="75" y="1085.5">MANIERISMO</text>
<text class="g" x="75" y="1099">BARROCO</text>
<text class="g" x="73" y="1113">ACADEMICISMO</text>
<text class="g" x="73" y="1126.5">ANTIACADEMICISMO</text>
</g>
</svg>
